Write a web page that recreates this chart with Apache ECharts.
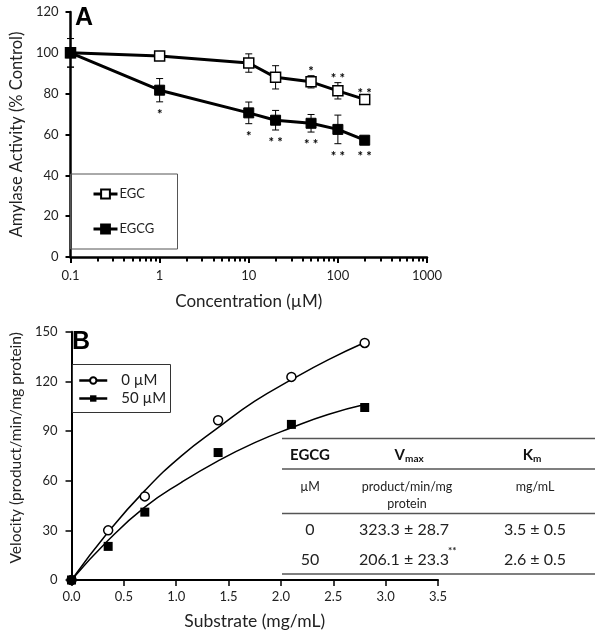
<!DOCTYPE html>
<html><head><meta charset="utf-8">
<script src="https://cdn.jsdelivr.net/npm/echarts@6/dist/echarts.min.js"></script>
<style>html,body{margin:0;padding:0;background:#fff}#c{width:601px;height:634px}</style>
</head><body><div id="c"></div>
<script>
// ---- Panel A data ----
const concentrations = [0.1, 1, 10, 20, 50, 100, 200];
const egcMean = [100, 98.4, 95, 88, 85.8, 81.4, 77.2];
const egcErr = [7, 1, 4.5, 5.7, 3, 4, 1];
const egcgMean = [100, 81.7, 70.6, 67, 65.5, 62.5, 57.2];
const egcgErr = [7, 5.7, 5.3, 4.8, 4.3, 7, 1.5];
const egcStars = ['', '', '', '', '*', '**', '**'];
const egcgStars = ['', '*', '*', '**', '**', '**', '**'];

// ---- Panel B data ----
const substrate = [0, 0.35, 0.7, 1.4, 2.1, 2.8];
const vel0 = [0, 30, 50.5, 96.5, 122.7, 143.2];
const vel50 = [0, 20.3, 41, 77, 94, 104.2];
const fitSubstrate = [0, 0.35, 0.7, 1.05, 1.4, 1.75, 2.1, 2.45, 2.8];
const fit0 = [0, 29, 54, 75, 92, 108, 121, 133, 143.5];
const fit50 = [0, 24, 44, 59, 72, 83, 92, 100, 106];

// ---- Table ----
const tableHeader = ['EGCG', 'V', 'K'];
const tableHeaderSub = ['', 'max', 'm'];
const tableUnits = ['µM', 'product/min/mg\nprotein', 'mg/mL'];
const tableRows = [['0', '323.3 ± 28.7', '3.5 ± 0.5'], ['50', '206.1 ± 23.3', '2.6 ± 0.5']];
const tableSig = ['', '**'];

const FONT = 'Lato, "Open Sans", sans-serif';
const chart = echarts.init(document.getElementById('c'), null, {renderer: 'canvas'});

function errorSeries(mean, err, name) {
  return {
    type: 'custom', name: name, xAxisIndex: 0, yAxisIndex: 0, z: 1, silent: true,
    data: concentrations.map((c, i) => [c, mean[i] - err[i], mean[i] + err[i]]),
    encode: {x: 0, y: [1, 2]},
    renderItem(params, api) {
      const x = api.value(0);
      const lo = api.coord([x, api.value(1)]);
      const hi = api.coord([x, api.value(2)]);
      const w = 3.5;
      const st = {stroke: '#000', lineWidth: 1};
      return {type: 'group', children: [
        {type: 'line', shape: {x1: lo[0], y1: lo[1], x2: hi[0], y2: hi[1]}, style: st},
        {type: 'line', shape: {x1: lo[0] - w, y1: lo[1], x2: lo[0] + w, y2: lo[1]}, style: st},
        {type: 'line', shape: {x1: hi[0] - w, y1: hi[1], x2: hi[0] + w, y2: hi[1]}, style: st}
      ]};
    }
  };
}

function starSeries(mean, err, stars, above) {
  return {
    type: 'custom', xAxisIndex: 0, yAxisIndex: 0, z: 5, silent: true,
    data: concentrations.map((c, i) => [c, mean[i], err[i], i]),
    encode: {x: 0, y: 1},
    renderItem(params, api) {
      const i = api.value(3);
      const s = stars[i];
      if (!s) return null;
      const c = api.coord([api.value(0), api.value(1)]);
      const e = api.coord([api.value(0), above ? api.value(1) + api.value(2) : api.value(1) - api.value(2)]);
      let y;
      if (above) y = Math.min(e[1] - 8, c[1] - 10);
      else y = Math.max(e[1] + 9, c[1] + 13);
      return {type: 'text', x: c[0], y: y + 4, style: {text: s.split('').join(' '), fill: '#000', font: 'bold 13px ' + FONT, align: 'center', verticalAlign: 'middle'}};
    }
  };
}

const graphics = [
  {type: 'text', left: 75, top: 6, style: {text: 'A', font: 'bold 25px "Liberation Sans", Arial', fill: '#000'}},
  {type: 'text', left: 72, top: 330, style: {text: 'B', font: 'bold 25px "Liberation Sans", Arial', fill: '#000'}},
  {type: 'rect', shape: {x: 70.5, y: 174, width: 107, height: 75}, style: {fill: 'none', stroke: '#555', lineWidth: 1}, z: 10},
  {type: 'rect', shape: {x: 72.5, y: 364.5, width: 98, height: 48}, style: {fill: 'none', stroke: '#333', lineWidth: 1}, z: 10}
];

// Table
const colX = [310, 407, 535];
const tL = 282, tR = 595;
[438.5, 469, 513.5, 574].forEach(y => graphics.push({type: 'line', shape: {x1: tL, y1: y, x2: tR, y2: y}, style: {stroke: '#555', lineWidth: 1.5}}));
tableHeader.forEach((h, i) => {
  if (tableHeaderSub[i]) {
    graphics.push({type: 'text', x: colX[i] - 2, y: 455, style: {text: h, font: 'bold 15px ' + FONT, fill: '#111', align: 'right', verticalAlign: 'middle'}});
    graphics.push({type: 'text', x: colX[i] - 2, y: 459, style: {text: tableHeaderSub[i], font: 'bold 10px ' + FONT, fill: '#111', align: 'left', verticalAlign: 'middle'}});
  } else {
    graphics.push({type: 'text', x: colX[i], y: 455, style: {text: h, font: 'bold 15px ' + FONT, fill: '#111', align: 'center', verticalAlign: 'middle'}});
  }
});
tableUnits.forEach((u, i) => {
  graphics.push({type: 'text', x: colX[i], y: 478, style: {text: u, font: '12.5px ' + FONT, fill: '#222', align: 'center', verticalAlign: 'top', lineHeight: 17}});
});
tableRows.forEach((row, r) => {
  const y = 530 + r * 29.5;
  row.forEach((v, i) => {
    graphics.push({type: 'text', x: colX[i] - (i === 1 ? 3 : 0), y: y, style: {text: v, font: '16px ' + FONT, fill: '#222', align: 'center', verticalAlign: 'middle'}});
  });
  if (tableSig[r]) {
    graphics.push({type: 'text', x: 448, y: y - 9, style: {text: tableSig[r], font: 'bold 10px ' + FONT, fill: '#222', align: 'left', verticalAlign: 'middle'}});
  }
});

const axisLabelStyle = {color: '#222', fontSize: 13, fontFamily: FONT};

const option = {
  animation: false,
  backgroundColor: '#fff',
  graphic: graphics,
  grid: [
    {left: 62, top: 12, width: 365, height: 245},
    {left: 64, top: 331.7, width: 374, height: 248.3}
  ],
  xAxis: [
    {type: 'log', gridIndex: 0, logBase: 10, min: 0.1, max: 1000,
      name: 'Concentration (µM)', nameLocation: 'middle', nameGap: 36,
      nameTextStyle: {fontSize: 17, fontFamily: FONT, color: '#222'},
      axisLine: {lineStyle: {color: '#000', width: 2.5}},
      axisTick: {show: true, length: 6, lineStyle: {color: '#000', width: 2}},
      minorTick: {show: true, splitNumber: 9, length: 4.5, lineStyle: {color: '#000', width: 2}},
      axisLabel: Object.assign({margin: 12, formatter: v => String(v)}, axisLabelStyle),
      splitLine: {show: false}},
    {type: 'value', gridIndex: 1, min: 0, max: 3.5, interval: 0.5,
      name: 'Substrate (mg/mL)', nameLocation: 'middle', nameGap: 32,
      nameTextStyle: {fontSize: 17.5, fontFamily: FONT, color: '#222'},
      axisLine: {lineStyle: {color: '#000', width: 2}},
      axisTick: {length: 6, lineStyle: {color: '#000', width: 1.5}},
      axisLabel: Object.assign({margin: 10, formatter: v => v.toFixed(1)}, axisLabelStyle),
      splitLine: {show: false}}
  ],
  yAxis: [
    {type: 'value', gridIndex: 0, min: 0, max: 120, interval: 20,
      name: 'Amylase Activity (% Control)', nameLocation: 'middle', nameGap: 39,
      nameTextStyle: {fontSize: 16.5, fontFamily: FONT, color: '#222'},
      axisLine: {show: true, lineStyle: {color: '#000', width: 2.5}},
      axisTick: {show: true, length: 5, lineStyle: {color: '#000', width: 2}},
      axisLabel: Object.assign({margin: 12}, axisLabelStyle),
      splitLine: {show: false}},
    {type: 'value', gridIndex: 1, min: 0, max: 150, interval: 30,
      name: 'Velocity (product/min/mg protein)', nameLocation: 'middle', nameGap: 38,
      nameTextStyle: {fontSize: 15.5, fontFamily: FONT, color: '#222', padding: [0, 0, 0, 16]},
      axisLine: {show: true, lineStyle: {color: '#000', width: 2}},
      axisTick: {show: true, length: 6, lineStyle: {color: '#000', width: 1.5}},
      axisLabel: Object.assign({margin: 14}, axisLabelStyle),
      splitLine: {show: false}}
  ],
  legend: [
    {data: ['EGC', 'EGCG'], orient: 'vertical', left: 92, top: 187.5, padding: 0, itemWidth: 24, itemHeight: 11, itemGap: 22,
      lineStyle: {width: 3},
      textStyle: {fontSize: 13, fontFamily: FONT, color: '#222', padding: [0, 0, 0, -3]}, selectedMode: false},
    {data: ['0 µM', '50 µM'], orient: 'vertical', left: 78, top: 373, padding: 0, itemWidth: 28, itemHeight: 8, itemGap: 3,
      lineStyle: {width: 2.5},
      textStyle: {fontSize: 15, fontFamily: FONT, color: '#222', padding: [0, 0, 0, 9]}, selectedMode: false}
  ],
  series: [
    errorSeries(egcMean, egcErr, 'egcErr'),
    errorSeries(egcgMean, egcgErr, 'egcgErr'),
    {type: 'line', name: 'EGC', xAxisIndex: 0, yAxisIndex: 0, z: 3,
      data: concentrations.map((c, i) => [c, egcMean[i]]),
      symbol: 'rect', symbolSize: 10,
      itemStyle: {color: '#fff', borderColor: '#000', borderWidth: 1.5},
      lineStyle: {color: '#000', width: 3}},
    {type: 'line', name: 'EGCG', xAxisIndex: 0, yAxisIndex: 0, z: 3,
      data: concentrations.map((c, i) => [c, egcgMean[i]]),
      symbol: 'rect', symbolSize: 10,
      itemStyle: {color: '#000', borderColor: '#000', borderWidth: 1},
      lineStyle: {color: '#000', width: 3}},
    starSeries(egcMean, egcErr, egcStars, true),
    starSeries(egcgMean, egcgErr, egcgStars, false),
    {type: 'line', name: '0 µM', xAxisIndex: 1, yAxisIndex: 1, smooth: true, showSymbol: false,
      symbol: 'circle', symbolSize: 9,
      itemStyle: {color: '#fff', borderColor: '#000', borderWidth: 1.5},
      data: fitSubstrate.map((s, i) => [s, fit0[i]]),
      lineStyle: {color: '#000', width: 1.5}},
    {type: 'line', name: '50 µM', xAxisIndex: 1, yAxisIndex: 1, smooth: true, showSymbol: false,
      symbol: 'rect', symbolSize: 9,
      itemStyle: {color: '#000'},
      data: fitSubstrate.map((s, i) => [s, fit50[i]]),
      lineStyle: {color: '#000', width: 1.5}},
    {type: 'scatter', name: 'pts0', xAxisIndex: 1, yAxisIndex: 1, z: 4,
      data: substrate.map((s, i) => [s, vel0[i]]),
      symbol: 'circle', symbolSize: 9,
      itemStyle: {color: '#fff', borderColor: '#000', borderWidth: 1.5, opacity: 1}},
    {type: 'scatter', name: 'pts50', xAxisIndex: 1, yAxisIndex: 1, z: 4,
      data: substrate.map((s, i) => [s, vel50[i]]),
      symbol: 'rect', symbolSize: 9,
      itemStyle: {color: '#000', opacity: 1}}
  ]
};
chart.setOption(option);
</script>
</body></html>
